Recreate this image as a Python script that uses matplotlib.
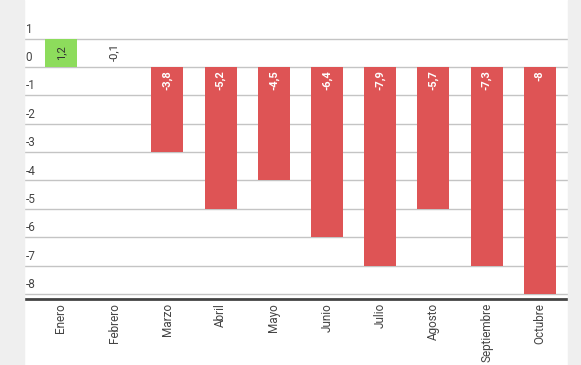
import matplotlib.pyplot as plt
from matplotlib.patches import Rectangle

plt.rcParams["font.family"] = ["Roboto", "DejaVu Sans"]

meses = ["Enero", "Febrero", "Marzo", "Abril", "Mayo", "Junio",
         "Julio", "Agosto", "Septiembre", "Octubre"]
# label shown on each bar
etiquetas = [1.2, -0.1, -3.8, -5.2, -4.5, -6.4, -7.9, -5.7, -7.3, -8]
# the bars themselves are drawn at the integer part
alturas = [1, 0, -3, -5, -4, -6, -7, -5, -7, -8]
yticks = [1, 0, -1, -2, -3, -4, -5, -6, -7, -8]

verde = "#8ddc5c"
rojo = "#de5455"

fig = plt.figure(figsize=(5.81, 3.65), dpi=100)
fig.patches.append(Rectangle((0, 0), 24 / 581, 1, transform=fig.transFigure,
                             color="#efefef", zorder=0))
fig.patches.append(Rectangle((568 / 581, 0), 13 / 581, 1, transform=fig.transFigure,
                             color="#efefef", zorder=0))

ax = fig.add_axes([24 / 581, 1 - 299 / 365, 544 / 581, 299 / 365])
ax.set_xlim(-0.695, 9.53)
ax.set_ylim(-8.18, 67 / 28.4)

x = list(range(len(meses)))
colores = [verde if h > 0 else rojo for h in alturas]
ax.bar(x, alturas, width=0.6, color=colores, zorder=2)

for xi, h, et in zip(x, alturas, etiquetas):
    txt = f"{et:g}".replace(".", ",")
    if h > 0:
        ax.text(xi, h / 2, txt, rotation=90, ha="center", va="center",
                fontsize=8, color="#333333", zorder=3)
    elif h == 0:
        ax.text(xi, 0.2, txt, rotation=90, ha="center", va="bottom",
                fontsize=8, color="#333333", zorder=3)
    else:
        ax.text(xi, -0.12, txt, rotation=90, ha="center", va="top",
                fontsize=8, color="white", fontweight="bold", zorder=3)

for t in yticks:
    ax.axhline(t, color="#c4c4c4", linewidth=1, zorder=1)
    ax.text(0.003, t + 0.1, str(t), transform=ax.get_yaxis_transform(),
            ha="left", va="bottom", fontsize=8.5, color="#444444")

ax.set_yticks([])
ax.set_xticks(x)
ax.set_xticklabels(meses, rotation=90, fontsize=8.5, color="#444444")
ax.tick_params(axis="x", length=0, pad=3)
for s in ["top", "right", "left"]:
    ax.spines[s].set_visible(False)
ax.spines["bottom"].set_color("#444444")
ax.spines["bottom"].set_linewidth(2)
ax.set_facecolor("none")

fig.savefig("out.png", dpi=100)
